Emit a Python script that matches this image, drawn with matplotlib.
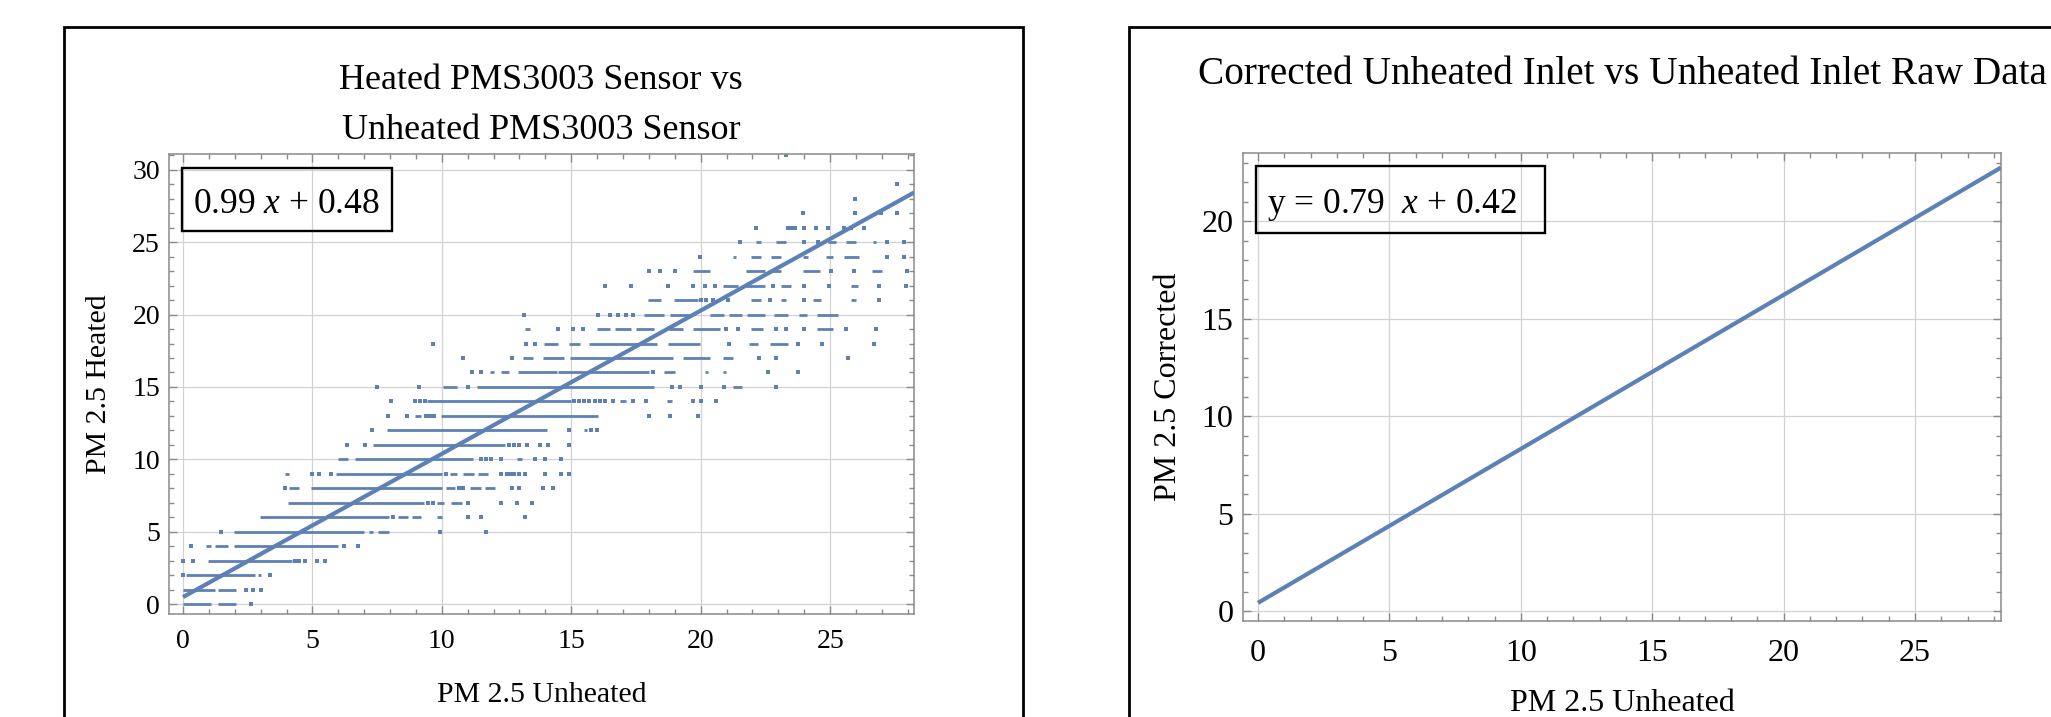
import matplotlib
matplotlib.use("Agg")
import matplotlib.pyplot as plt
from matplotlib.patches import Rectangle
from matplotlib.ticker import MultipleLocator

plt.rcParams['font.family'] = ['Liberation Serif', 'DejaVu Serif']
plt.rcParams['mathtext.fontset'] = 'custom'
plt.rcParams['mathtext.rm'] = 'Liberation Serif'
plt.rcParams['mathtext.it'] = 'Liberation Serif:italic'

# ---------------- data ----------------
left_title = ["Heated PMS3003 Sensor vs", "Unheated PMS3003 Sensor"]
right_title = "Corrected Unheated Inlet vs Unheated Inlet Raw Data"
left_xlabel = "PM 2.5 Unheated"
left_ylabel = "PM 2.5 Heated"
right_xlabel = "PM 2.5 Unheated"
right_ylabel = "PM 2.5 Corrected"

fit_left = (0.99, 0.48)    # slope, intercept
fit_right = (0.79, 0.42)
fit_left_label = "0.99 $x$ + 0.48"
fit_right_label = "y = 0.79  $x$ + 0.42"

left_xlim = (-0.54, 28.24)
left_ylim = (-0.69, 31.1)
right_xlim = (-0.57, 28.27)
right_ylim = (-0.51, 23.5)
fit_x_left = [0.0, 28.24]
fit_x_right = [0.0, 28.27]

# horizontal runs of densely packed points: (heated value, unheated from, unheated to)
heated_segments = [
    (0, 0.00, 1.10), (0, 1.35, 2.03),
    (1, 0.00, 1.25), (1, 1.35, 2.03),
    (2, 0.10, 2.78), (2, 2.90, 3.00),
    (3, 0.98, 4.20),
    (4, 0.90, 1.10), (4, 1.25, 1.75), (4, 1.98, 6.00),
    (5, 1.97, 6.99), (5, 7.20, 7.35), (5, 7.55, 7.95),
    (6, 2.97, 7.95), (6, 8.30, 8.70), (6, 8.85, 9.20), (6, 9.83, 10.00),
    (7, 4.04, 9.32), (7, 9.80, 10.10), (7, 10.35, 10.76),
    (8, 4.10, 4.48), (8, 4.94, 10.00), (8, 10.15, 10.50), (8, 11.10, 11.50), (8, 11.65, 12.05),
    (9, 3.94, 4.10), (9, 5.93, 10.00), (9, 10.30, 10.60), (9, 10.80, 11.25), (9, 11.40, 11.80),
    (10, 6.00, 6.36), (10, 6.64, 11.20), (10, 12.90, 13.10),
    (11, 7.35, 12.43),
    (12, 7.90, 14.08), (12, 15.50, 15.60),
    (13, 8.98, 9.20), (13, 9.96, 16.03),
    (14, 9.42, 15.00), (14, 16.90, 17.10), (14, 18.70, 18.90),
    (15, 10.05, 10.60), (15, 11.35, 18.20), (15, 21.25, 21.60),
    (16, 11.86, 12.00), (16, 12.30, 12.60), (16, 12.96, 14.43), (16, 14.50, 18.00),
    (16, 18.60, 19.00), (16, 20.15, 20.28), (16, 20.86, 20.99),
    (17, 13.15, 13.53), (17, 13.90, 14.70), (17, 14.95, 18.93), (17, 19.32, 20.35), (17, 20.86, 21.25),
    (18, 13.95, 14.50), (18, 14.92, 15.33), (18, 15.70, 18.30), (18, 18.74, 19.96),
    (18, 21.86, 22.20), (18, 22.66, 23.37),
    (19, 13.20, 13.40), (19, 16.00, 16.50), (19, 16.70, 17.30), (19, 17.50, 18.20),
    (19, 18.78, 19.32), (19, 19.70, 20.73), (19, 21.95, 22.40), (19, 24.50, 25.10),
    (20, 17.80, 18.60), (20, 18.80, 19.70), (20, 20.35, 20.90), (20, 21.10, 21.60),
    (20, 21.80, 22.47), (20, 22.85, 23.37), (20, 23.80, 24.10), (20, 24.50, 25.30),
    (21, 17.97, 18.48), (21, 18.96, 19.90), (21, 21.95, 22.34), (21, 23.10, 23.30),
    (21, 24.33, 24.65), (21, 25.80, 26.00),
    (22, 20.86, 21.44), (22, 21.76, 22.47), (22, 23.10, 23.50), (22, 25.80, 26.07),
    (23, 19.70, 20.35), (23, 21.76, 22.47), (23, 22.73, 23.10), (23, 23.95, 24.60), (23, 26.62, 27.00),
    (24, 21.25, 21.35), (24, 21.95, 22.34), (24, 22.73, 23.10), (24, 23.95, 24.14),
    (24, 24.85, 25.10), (24, 25.53, 26.13),
    (25, 22.12, 22.34), (25, 22.92, 23.30), (25, 24.90, 25.23), (25, 25.60, 26.00), (25, 26.64, 26.77),
]

# isolated points: (heated value, [unheated values])
heated_dots = [
    (0, [2.63]),
    (1, [2.43, 2.72, 3.01]),
    (2, [0.0, 3.36]),
    (3, [0.0, 0.4, 4.32, 4.5, 4.7, 5.16, 5.5]),
    (4, [0.3, 6.23, 6.77]),
    (5, [1.47, 9.92, 11.7]),
    (6, [8.1, 11.0, 11.5, 13.2]),
    (7, [9.45, 9.65, 11.0, 12.3, 12.9, 13.5]),
    (8, [3.94, 10.65, 10.8, 12.7, 13.0, 13.9, 14.3]),
    (9, [4.97, 5.25, 5.7, 10.15, 12.3, 12.5, 12.65, 12.8, 13.0, 13.2, 14.0, 14.6, 14.9]),
    (10, [11.5, 11.7, 11.9, 12.3, 13.6, 14.0, 14.6]),
    (11, [6.32, 7.03, 12.6, 12.8, 13.0, 13.3, 13.8, 14.1, 14.9]),
    (12, [7.31, 14.9, 15.75, 16.0]),
    (13, [7.93, 8.66, 9.4, 9.55, 9.7, 18.0, 18.8, 19.9]),
    (14, [8.03, 8.98, 9.15, 9.34, 15.1, 15.3, 15.5, 15.7, 15.9, 16.1, 16.3, 16.6, 17.4, 17.9,
          19.7, 20.0, 20.6]),
    (15, [7.48, 9.1, 11.0, 18.9, 19.2, 20.0, 20.9, 22.9]),
    (16, [11.16, 11.5, 18.16, 22.6, 23.75]),
    (17, [10.81, 12.7, 22.27, 22.9, 25.7]),
    (18, [9.64, 13.25, 13.6, 21.1, 23.75, 24.7, 26.7]),
    (19, [14.5, 15.05, 15.44, 20.96, 21.44, 22.9, 23.3, 24.0, 25.6, 26.77]),
    (20, [13.17, 16.04, 16.5, 16.8, 17.1, 17.4]),
    (21, [20.03, 20.2, 20.48, 21.05, 22.66, 24.0, 26.9]),
    (22, [16.3, 17.29, 18.74, 19.7, 20.15, 20.54, 22.79, 24.0, 24.97, 26.9, 27.93]),
    (23, [18.0, 18.44, 18.99, 25.04, 25.94, 27.96]),
    (24, [19.99, 27.2, 27.87]),
    (25, [21.5, 24.0, 24.52, 27.2, 27.87]),
    (26, [22.12, 23.37, 23.5, 23.65, 24.0, 24.46, 24.9, 25.55, 25.8, 26.3]),
    (27, [23.95, 25.98, 26.97, 27.6]),
    (28, [25.98]),
    (29, [27.6]),
    (31, [23.3]),
]

# ---------------- figure ----------------
W, H = 2051, 717
fig = plt.figure(figsize=(W / 100, H / 100), dpi=100)
fig.patch.set_facecolor('white')


def fx(p):
    return p / W


def fy(p):
    return 1 - p / H


BLUE = '#5E81B5'
FRAME = '#8a8a8a'
GRID = '#d2d2d2'

ax1 = fig.add_axes([fx(169), fy(614), (914 - 169) / W, (614 - 154) / H])
ax2 = fig.add_axes([fx(1243), fy(621), (2001 - 1243) / W, (621 - 153) / H])


def style(ax, tick_fs, xpad, ypad):
    ax.xaxis.set_major_locator(MultipleLocator(5))
    ax.yaxis.set_major_locator(MultipleLocator(5))
    ax.xaxis.set_minor_locator(MultipleLocator(1))
    ax.yaxis.set_minor_locator(MultipleLocator(1))
    ax.tick_params(which='both', direction='in', top=True, right=True,
                   color=FRAME, width=1.0)
    ax.tick_params(which='major', length=6)
    ax.tick_params(which='minor', length=3.3)
    ax.tick_params(axis='x', which='major', pad=xpad, labelsize=tick_fs)
    ax.tick_params(axis='y', which='major', pad=ypad, labelsize=tick_fs)
    for s in ax.spines.values():
        s.set_color(FRAME)
        s.set_linewidth(1.1)
    ax.grid(True, which='major', color=GRID, linewidth=0.9)
    ax.set_axisbelow(True)


# ---- left panel ----
style(ax1, 20, 11.0, 6.5)
ax1.set_xlim(*left_xlim)
ax1.set_ylim(*left_ylim)

seg_y = [s[0] for s in heated_segments]
seg_x0 = [s[1] for s in heated_segments]
seg_x1 = [s[2] for s in heated_segments]
ax1.hlines(seg_y, seg_x0, seg_x1, colors=BLUE, linewidth=2.0, zorder=2)
dot_x = [x for yv, xs in heated_dots for x in xs]
dot_y = [yv for yv, xs in heated_dots for x in xs]
ax1.plot(dot_x, dot_y, 's', color=BLUE, markersize=2.2, markeredgewidth=0, zorder=2)

m1, b1 = fit_left
ax1.plot(fit_x_left, [m1 * x + b1 for x in fit_x_left], color=BLUE, linewidth=3.0,
         solid_capstyle='butt', zorder=3)

ax1.set_xlabel(left_xlabel, fontsize=21.5)
ax1.xaxis.set_label_coords(0.5, (614 - 702) / 460)
ax1.xaxis.label.set_verticalalignment('baseline')
ax1.set_ylabel(left_ylabel, fontsize=21.5)
ax1.yaxis.set_label_coords((99 - 169) / 745, 0.5)
ax1.yaxis.label.set_verticalalignment('center')

fig.text(fx(541), fy(89), left_title[0], ha='center', va='baseline', fontsize=26)
fig.text(fx(541), fy(139), left_title[1], ha='center', va='baseline', fontsize=26)

fig.add_artist(Rectangle((fx(182), fy(231)), (392 - 182) / W, (231 - 168) / H,
                         transform=fig.transFigure, fill=False, edgecolor='black',
                         linewidth=1.7))
fig.text(fx(193), fy(213), fit_left_label, ha='left', va='baseline', fontsize=25.5)

# ---- right panel ----
style(ax2, 23, 13.0, 7.0)
ax2.set_xlim(*right_xlim)
ax2.set_ylim(*right_ylim)
m2, b2 = fit_right
ax2.plot(fit_x_right, [m2 * x + b2 for x in fit_x_right], color=BLUE, linewidth=3.0,
         solid_capstyle='butt', zorder=3)

ax2.set_xlabel(right_xlabel, fontsize=23)
ax2.xaxis.set_label_coords(0.5, (621 - 711) / 468)
ax2.xaxis.label.set_verticalalignment('baseline')
ax2.set_ylabel(right_ylabel, fontsize=23)
ax2.yaxis.set_label_coords((1168 - 1243) / 758, 0.5)
ax2.yaxis.label.set_verticalalignment('center')

ax2.set_title(right_title, fontsize=28.3, y=(621 - 84) / 468, va='baseline', pad=0)

fig.add_artist(Rectangle((fx(1256), fy(233)), (1545 - 1256) / W, (233 - 166) / H,
                         transform=fig.transFigure, fill=False, edgecolor='black',
                         linewidth=1.7))
fig.text(fx(1267), fy(213), fit_right_label, ha='left', va='baseline', fontsize=25.5)

# ---- outer panel frames ----
fig.add_artist(Rectangle((fx(64), fy(760)), (1023 - 64) / W, (760 - 27) / H,
                         transform=fig.transFigure, fill=False, edgecolor='black',
                         linewidth=2.0, clip_on=False))
fig.add_artist(Rectangle((fx(1129), fy(760)), (2090 - 1129) / W, (760 - 27) / H,
                         transform=fig.transFigure, fill=False, edgecolor='black',
                         linewidth=2.0, clip_on=False))

fig.savefig("out.png", dpi=100)
